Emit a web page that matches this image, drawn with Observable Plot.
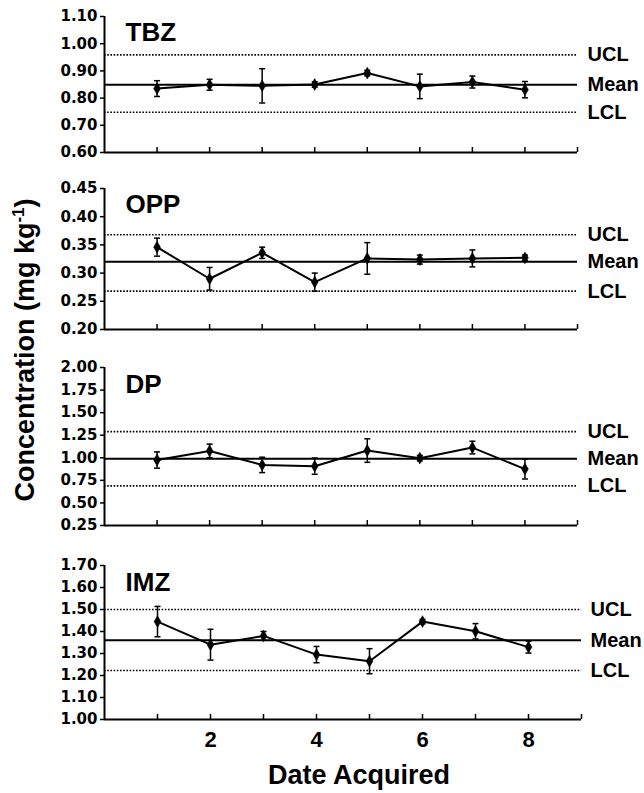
<!DOCTYPE html>
<html><head><meta charset="utf-8">
<script src="https://cdn.jsdelivr.net/npm/d3@7"></script>
<script src="https://cdn.jsdelivr.net/npm/@observablehq/plot@0.6"></script>
<style>
body{margin:0;background:#fff;}
#chart{position:relative;width:644px;height:793px;font-family:"Liberation Sans",Arial,sans-serif;font-weight:bold;color:#000;overflow:hidden;}
#chart svg{position:absolute;left:0;overflow:visible;}
#ytitle{position:absolute;left:25px;top:350px;transform:translate(-50%,-50%) rotate(-90deg);font-size:27px;line-height:27px;white-space:nowrap;}
#ytitle sup{font-size:17px;line-height:0;vertical-align:10px;}
#xtitle{position:absolute;left:359px;top:762px;transform:translateX(-50%);font-size:27px;line-height:27px;white-space:nowrap;}
</style>
</head><body>
<div id="chart">
  <div id="ytitle">Concentration (mg kg<sup>-1</sup>)</div>
  <div id="xtitle">Date Acquired</div>
</div>
<script>
// ---- data ----
const dates = [1, 2, 3, 4, 5, 6, 7, 8];
const limitLabels = ["UCL", "Mean", "LCL"];

const tbzValues = [0.835, 0.849, 0.845, 0.850, 0.892, 0.843, 0.859, 0.831];
const tbzErrors = [0.029, 0.020, 0.063, 0.010, 0.010, 0.045, 0.022, 0.030];
const tbzLimits = [0.959, 0.849, 0.748];
const tbzTicks = [0.60, 0.70, 0.80, 0.90, 1.00, 1.10];

const oppValues = [0.346, 0.290, 0.336, 0.284, 0.326, 0.324, 0.326, 0.327];
const oppErrors = [0.016, 0.020, 0.010, 0.016, 0.028, 0.008, 0.015, 0.005];
const oppLimits = [0.368, 0.320, 0.268];
const oppTicks = [0.20, 0.25, 0.30, 0.35, 0.40, 0.45];

const dpValues = [0.975, 1.076, 0.921, 0.907, 1.080, 0.996, 1.113, 0.875];
const dpErrors = [0.090, 0.075, 0.085, 0.090, 0.130, 0.030, 0.070, 0.110];
const dpLimits = [1.290, 0.990, 0.689];
const dpTicks = [0.25, 0.50, 0.75, 1.00, 1.25, 1.50, 1.75, 2.00];

const imzValues = [1.445, 1.340, 1.380, 1.295, 1.265, 1.445, 1.401, 1.329];
const imzErrors = [0.069, 0.070, 0.020, 0.037, 0.057, 0.010, 0.035, 0.027];
const imzLimits = [1.500, 1.360, 1.223];
const imzTicks = [1.00, 1.10, 1.20, 1.30, 1.40, 1.50, 1.60, 1.70];

const xDomain = [0, 9];
const xTickMarks = [1, 2, 3, 4, 5, 6, 7, 8, 9];
const xTickLabels = [2, 4, 6, 8];

// ---- drawing ----
const capSymbol = {
  draw(context, size) {
    const w = Math.sqrt(size / Math.PI);
    context.moveTo(-w, 0);
    context.lineTo(w, 0);
  }
};

function panel({name, values, errors, limits, ticks, top, plotH, right, bottomAxis, titleDy}) {
  const rows = dates.map((d, i) => ({date: d, value: values[i], lo: values[i] - errors[i], hi: values[i] + errors[i]}));
  const lims = limitLabels.map((l, i) => ({label: l, value: limits[i]}));
  const mt = 10, mb = bottomAxis ? 40 : 10;
  const svg = Plot.plot({
    width: 644,
    height: mt + plotH + mb,
    marginTop: mt, marginBottom: mb, marginLeft: 104, marginRight: 644 - right,
    x: {domain: xDomain, axis: null, label: null},
    y: {domain: [ticks[0], ticks[ticks.length - 1]], axis: null, label: null},
    style: {fontFamily: '"Liberation Sans", Arial, sans-serif', fontWeight: "bold", overflow: "visible", background: "transparent", color: "black"},
    marks: [
      Plot.ruleY(lims.filter(d => d.label !== "Mean"), {y: "value", stroke: "black", strokeWidth: 1.6, strokeDasharray: "1.6,1.6"}),
      Plot.ruleY(lims.filter(d => d.label === "Mean"), {y: "value", stroke: "black", strokeWidth: 2}),
      Plot.text(lims, {x: xDomain[1], y: "value", text: "label", textAnchor: "start", dx: right > 578 ? 9 : 10, fontSize: 20, fontWeight: "bold", fill: "black"}),
      Plot.ruleX(rows, {x: "date", y1: "lo", y2: "hi", stroke: "black", strokeWidth: 1.5}),
      Plot.dot(rows, {x: "date", y: "lo", symbol: capSymbol, r: 3, fill: "none", stroke: "black", strokeWidth: 1.5}),
      Plot.dot(rows, {x: "date", y: "hi", symbol: capSymbol, r: 3, fill: "none", stroke: "black", strokeWidth: 1.5}),
      Plot.line(rows, {x: "date", y: "value", stroke: "black", strokeWidth: 2}),
      Plot.dot(rows, {x: "date", y: "value", symbol: "diamond", r: 3.6, fill: "black", stroke: "black", strokeWidth: 0.5}),
      Plot.ruleX([xDomain[0]], {stroke: "black", strokeWidth: 2}),
      Plot.ruleY([ticks[0]], {stroke: "black", strokeWidth: 2}),
      Plot.axisY({ticks, label: null, tickSize: 4, tickPadding: 3, tickFormat: d => d.toFixed(2), fontSize: 15, fontFamily: '"DejaVu Sans", sans-serif', fontWeight: "bold", strokeWidth: 1.5, fill: "black", stroke: "black"}),
      Plot.axisX({ticks: xTickMarks, label: null, tickSize: -5, tickFormat: () => "", strokeWidth: 1.5, stroke: "black"}),
      bottomAxis ? Plot.axisX({ticks: xTickLabels, label: null, tickSize: 0, tickPadding: 12, fontSize: 22, fontWeight: "bold", fill: "black"}) : null,
      Plot.text([name], {frameAnchor: "top-left", dx: 21, dy: titleDy, text: d => d, textAnchor: "start", lineAnchor: "top", fontSize: 26, fontWeight: "bold", fill: "black"})
    ]
  });
  svg.style.top = (top - mt) + "px";
  document.getElementById("chart").appendChild(svg);
}

panel({name: "TBZ", values: tbzValues, errors: tbzErrors, limits: tbzLimits, ticks: tbzTicks, top: 16, plotH: 136, right: 577, bottomAxis: false, titleDy: 6});
panel({name: "OPP", values: oppValues, errors: oppErrors, limits: oppLimits, ticks: oppTicks, top: 188, plotH: 141, right: 577, bottomAxis: false, titleDy: 6});
panel({name: "DP", values: dpValues, errors: dpErrors, limits: dpLimits, ticks: dpTicks, top: 367, plotH: 158, right: 577, bottomAxis: false, titleDy: 7.5});
panel({name: "IMZ", values: imzValues, errors: imzErrors, limits: imzLimits, ticks: imzTicks, top: 565, plotH: 154, right: 581, bottomAxis: true, titleDy: 7.5});
</script>
</body></html>
